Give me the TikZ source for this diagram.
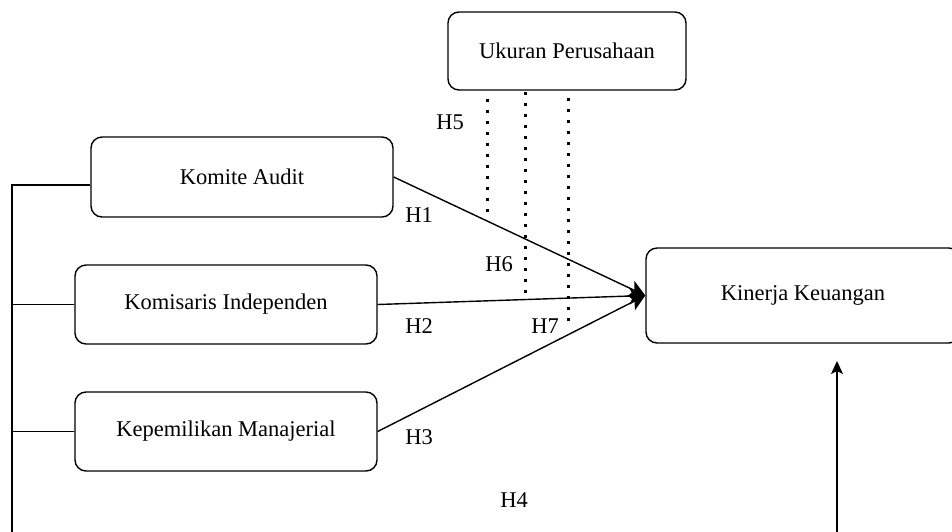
\documentclass[tikz,border=0pt]{standalone}
\usepackage{fontspec}
\setmainfont{Liberation Serif}
\usetikzlibrary{arrows.meta}
\begin{document}
\begin{tikzpicture}[x=1pt,y=-1pt,
  box/.style={draw, line width=1.4pt, rounded corners=11pt, inner sep=0pt, font=\fontsize{22.5}{26}\selectfont},
  conn/.style={line width=1.4pt},
  bigarrow/.style={line width=1.4pt, -{Stealth[length=16pt,width=17pt,inset=4pt]}},
  uparrow/.style={line width=1.4pt, -{Stealth[length=13pt,width=12pt,inset=3pt]}},
  dotline/.style={line width=3pt, dash pattern=on 3pt off 8pt},
  lbl/.style={font=\fontsize{22.5}{26}\selectfont, inner sep=0pt}]
\clip (0,0) rectangle (952,531);
\fill[white] (0,0) rectangle (952,531);
% boxes
\node[box, minimum width=238pt, minimum height=78pt] (up) at (567,51) {Ukuran Perusahaan};
\node[box, minimum width=302pt, minimum height=80pt] (ka) at (242,177) {Komite Audit};
\node[box, minimum width=302pt, minimum height=79pt] (ki) at (226,304.5) {Komisaris Independen};
\node[box, minimum width=302pt, minimum height=79pt] (km) at (226,431.5) {Kepemilikan Manajerial};
\node[box, minimum width=314pt, minimum height=95pt] (kk) at (803,295.5) {Kinerja Keuangan};
% left bus
\coordinate (bus) at (12,545);
\coordinate (kaw) at ([yshift=-8pt]ka.west);
\draw[conn] (kaw) -- (kaw -| bus) -- (bus);
\draw[conn] (ki.west) -- (ki.west -| bus);
\draw[conn] (km.west) -- (km.west -| bus);
% arrows into Kinerja
\draw[bigarrow] (ka.east) -- (kk.west);
\draw[bigarrow] (ki.east) -- (kk.west);
\draw[bigarrow] (km.east) -- (kk.west);
% dotted moderation lines
\coordinate (d1a) at (487,99);  \coordinate (d1b) at (487,215);
\coordinate (d2a) at (525,92);  \coordinate (d2b) at (525,294);
\coordinate (d3a) at (568,98);  \coordinate (d3b) at (568,326);
\draw[dotline] (d1a) -- (d1b);
\draw[dotline] (d2a) -- (d2b);
\draw[dotline] (d3a) -- (d3b);
% up arrow
\coordinate (ub) at (837,545);
\coordinate (ut) at (837,361);
\draw[uparrow] (ub) -- (ut);
% labels
\node[lbl] (h1) at (419,215) {H1};
\node[lbl] (h2) at (419,326) {H2};
\node[lbl] (h3) at (419,437) {H3};
\node[lbl] (h4) at (514,500) {H4};
\node[lbl] (h5) at (450,122) {H5};
\node[lbl] (h6) at (499,264) {H6};
\node[lbl] (h7) at (545,326) {H7};
\end{tikzpicture}
\end{document}
